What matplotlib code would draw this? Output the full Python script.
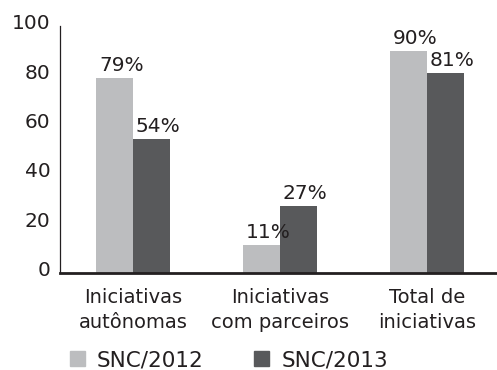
import matplotlib
matplotlib.use('Agg')
import matplotlib.pyplot as plt
import matplotlib.transforms as mtransforms
from matplotlib.patches import Patch
import numpy as np

# data
categories = ['Iniciativas\nautônomas', 'Iniciativas\ncom parceiros', 'Total de\niniciativas']
snc_2012 = [79, 11, 90]
snc_2013 = [54, 27, 81]
series_names = ['SNC/2012', 'SNC/2013']
y_ticks = [0, 20, 40, 60, 80, 100]

light = '#bcbdbf'
dark = '#58595b'
ink = '#231f20'

plt.rcParams['font.family'] = ['DejaVu Sans']

fig = plt.figure(figsize=(4.97, 3.70), dpi=100)
ax = fig.add_axes([60 / 497, (370 - 272.5) / 370, 1 - 60 / 497, (272.5 - 26) / 370])

x = np.arange(len(categories))
w = 0.25
b1 = ax.bar(x - w / 2, snc_2012, w, color=light)
b2 = ax.bar(x + w / 2, snc_2013, w, color=dark)

for bars, vals in ((b1, snc_2012), (b2, snc_2013)):
    for r, v in zip(bars, vals):
        ax.annotate(f'{v}%', (r.get_x() + r.get_width() / 2, r.get_height()),
                    xytext=(5, 5), textcoords='offset points',
                    ha='center', va='baseline', fontsize=14.5, color=ink)

ax.set_xlim(-0.497, 2.476)
ax.set_ylim(0, 100)
ax.set_yticks(y_ticks)
ax.set_xticks(x)
ax.set_xticklabels(categories, fontsize=14, color=ink, linespacing=1.35)
ax.tick_params(axis='y', length=0, pad=7, labelsize=14.5, labelcolor=ink)
ax.tick_params(axis='x', length=0, pad=11.5)

# y labels sit a touch above their value
off = mtransforms.ScaledTranslation(0, 3 / 72, fig.dpi_scale_trans)
for lab in ax.get_yticklabels():
    lab.set_transform(lab.get_transform() + off)

ax.spines['top'].set_visible(False)
ax.spines['right'].set_visible(False)
ax.spines['left'].set_linewidth(0.9)
ax.spines['bottom'].set_linewidth(2.0)
ax.spines['left'].set_color(ink)
ax.spines['bottom'].set_color(ink)

handles = [Patch(color=light), Patch(color=dark)]
fig.legend(handles, series_names, loc='lower left', bbox_to_anchor=(70 / 497, 0.0),
           ncol=2, frameon=False, fontsize=15.5, handlelength=0.7, handleheight=0.7,
           handletextpad=0.56, columnspacing=2.33, borderpad=0.0, borderaxespad=0.0,
           labelcolor=ink)

fig.savefig('out.png', dpi=100)
